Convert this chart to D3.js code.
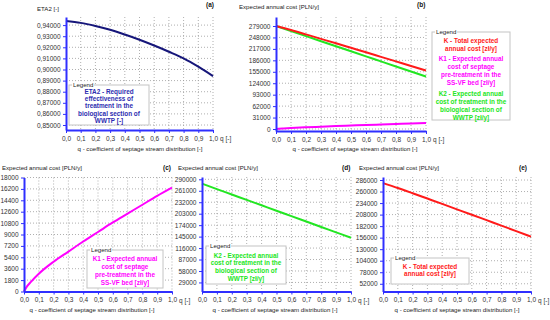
<!DOCTYPE html>
<html>
<head>
<meta charset="utf-8">
<script src="https://cdn.jsdelivr.net/npm/d3@7"></script>
<style>
  body { margin: 0; background: #fff; }
  svg { font-family: "Liberation Sans", Arial, sans-serif; }
  .tick text { fill: #333; font-size: 6.5px; }
  .title { fill: #222; font-size: 6.1px; }
  .letter { fill: #111; font-size: 6.5px; font-weight: bold; }
  .lgtxt { font-size: 6.4px; font-weight: bold; }
</style>
</head>
<body>
<div id="chart"></div>
<script>
// q - coefficient of septage stream distribution
const q = [0, 0.1, 0.2, 0.3, 0.4, 0.5, 0.6, 0.7, 0.8, 0.9, 1.0];
const qFine = [0, 0.02, 0.05, 0.1, 0.2, 0.3, 0.4, 0.5, 0.6, 0.7, 0.8, 0.9, 1.0];

// series
const eta2 = [0.9438, 0.9420, 0.9392, 0.9358, 0.9315, 0.9268, 0.9216, 0.9160, 0.9100, 0.9025, 0.8940];
const k1 = [0, 800, 1600, 2800, 4700, 6300, 7900, 9400, 10900, 12300, 13700, 15100, 16400];
const k2 = [279000, 265300, 251600, 237900, 224200, 210500, 196800, 183100, 169400, 155700, 142000];
const k = [279000, 268100, 256300, 244200, 232100, 219900, 207700, 195400, 183100, 170800, 158400];

// tick values
const xTicks = [0, 0.1, 0.2, 0.3, 0.4, 0.5, 0.6, 0.7, 0.8, 0.9, 1.0];
const ticksA = [0.85, 0.86, 0.87, 0.88, 0.89, 0.90, 0.91, 0.92, 0.93, 0.94];
const ticksB = [0, 31000, 62000, 93000, 124000, 155000, 186000, 217000, 248000, 279000];
const ticksC = [0, 1800, 3600, 5400, 7200, 9000, 10800, 12600, 14400, 16200, 18000];
const ticksD = [29000, 58000, 87000, 116000, 145000, 174000, 203000, 232000, 261000, 290000];
const ticksE = [52000, 78000, 104000, 130000, 156000, 182000, 208000, 234000, 260000, 286000];

const plLocale = d3.formatLocale({decimal: ",", thousands: "", grouping: [3], currency: ["", ""]});
const fmtX = plLocale.format(".1f");

const RED = "#ff1a1a", MAG = "#ff00ff", GRN = "#22e622", NAVY = "#16167a", LBLUE = "#2c2cb0";
const AXIS = "#2f2fff";

const yTitleCost = "Expected annual cost [PLN/y]";
const xTitle = "q - coefficient of septage stream distribution [-]";

const legK = [["K - Total expected", RED], ["annual cost [zł/y]", RED]];
const legK1 = [["K1 - Expected annual", MAG], ["cost of septage", MAG], ["pre-treatment in the", MAG], ["SS-VF bed [zł/y]", MAG]];
const legK2 = [["K2 - Expected annual", GRN], ["cost of treatment in the", GRN], ["biological section of", GRN], ["WWTP [zł/y]", GRN]];
const legEta = [["ETA2 - Required", LBLUE], ["effectiveness of", LBLUE], ["treatment in the", LBLUE], ["biological section of", LBLUE], ["WWTP [-]", LBLUE]];

const panels = [
  { letter: "(a)", left: 66, right: 213, top: 17, bottom: 130, yDom: [0.8455, 0.9473], yTicks: ticksA, yFmt: plLocale.format(".5f"),
    yTitle: "ETA2 [-]", yTitleX: 37, yTitleY: 11, letterX: 206, letterY: 7, xTitleX: 140, xTitleY: 151,
    series: [{x: q, y: eta2, color: NAVY}],
    legend: {x: 69, y: 85, w: 80, h: 40, lines: legEta, y0: 92, dy: 7.3} },
  { letter: "(b)", left: 276, right: 426, top: 17, bottom: 131, yDom: [-5400, 303400], yTicks: ticksB, yFmt: plLocale.format("d"),
    yTitle: yTitleCost, yTitleX: 239, yTitleY: 9, letterX: 417, letterY: 7, xTitleX: 355, xTitleY: 151,
    series: [{x: q, y: k2, color: GRN}, {x: qFine, y: k1, color: MAG}, {x: q, y: k, color: RED}],
    legend: {x: 432, y: 32, w: 78, h: 88, lines: [...legK, ...legK1, ...legK2], y0: 41, dy: 8, gaps: [0, 0, 2.5, 2.5, 2.5, 2.5, 5, 5, 5, 5]} },
  { letter: "(c)", left: 24, right: 172, top: 177.5, bottom: 291.5, yDom: [0, 18000], yTicks: ticksC, yFmt: plLocale.format("d"),
    yTitle: yTitleCost, yTitleX: 2, yTitleY: 170, letterX: 163, letterY: 170, xTitleX: 92, xTitleY: 312,
    series: [{x: qFine, y: k1, color: MAG}],
    legend: {x: 87, y: 250, w: 76, h: 38, lines: legK1, y0: 259.5, dy: 8.1} },
  { letter: "(d)", left: 202, right: 351, top: 177, bottom: 291.5, yDom: [6100, 295850], yTicks: ticksD, yFmt: plLocale.format("d"),
    yTitle: yTitleCost, yTitleX: 178, yTitleY: 170, letterX: 342, letterY: 170, xTitleX: 275, xTitleY: 312,
    series: [{x: q, y: k2, color: GRN}],
    legend: {x: 206, y: 246, w: 80, h: 38, lines: legK2, y0: 256, dy: 7.8} },
  { letter: "(e)", left: 383, right: 531, top: 177, bottom: 291.5, yDom: [34560, 292800], yTicks: ticksE, yFmt: plLocale.format("d"),
    yTitle: yTitleCost, yTitleX: 359, yTitleY: 170, letterX: 519, letterY: 170, xTitleX: 457, xTitleY: 312,
    series: [{x: q, y: k, color: RED}],
    legend: {x: 391, y: 258, w: 78, h: 26, lines: legK, y0: 267, dy: 7.6} }
];

const svg = d3.select("#chart").append("svg")
  .attr("width", 550)
  .attr("height", 320);

svg.append("rect").attr("width", 550).attr("height", 320).attr("fill", "#fff");

panels.forEach(p => {
  const g = svg.append("g");
  const x = d3.scaleLinear().domain([0, 1]).range([p.left, p.right]);
  const y = d3.scaleLinear().domain(p.yDom).range([p.bottom, p.top]);

  // dotted grid
  g.append("g").selectAll("line.v")
    .data(xTicks.slice(1))
    .enter().append("line")
    .attr("x1", d => x(d)).attr("x2", d => x(d))
    .attr("y1", p.top).attr("y2", p.bottom)
    .attr("stroke", "#9a9a9a").attr("stroke-width", 0.8).attr("stroke-dasharray", "1,2");
  g.append("g").selectAll("line.h")
    .data(p.yTicks)
    .enter().append("line")
    .attr("x1", p.left).attr("x2", p.right)
    .attr("y1", d => y(d)).attr("y2", d => y(d))
    .attr("stroke", "#9a9a9a").attr("stroke-width", 0.8).attr("stroke-dasharray", "1,2");

  // series
  p.series.forEach(s => {
    const pts = s.x.map((xv, i) => [xv, s.y[i]]);
    g.append("path")
      .datum(pts)
      .attr("fill", "none")
      .attr("stroke", s.color)
      .attr("stroke-width", 2)
      .attr("d", d3.line().x(d => x(d[0])).y(d => y(d[1])).curve(d3.curveMonotoneX));
  });

  // axes
  const yAxis = d3.axisLeft(y).tickValues(p.yTicks).tickFormat(p.yFmt).tickSize(3).tickSizeOuter(0).tickPadding(2.5);
  const xAxis = d3.axisBottom(x).tickValues(xTicks).tickFormat(fmtX).tickSize(3).tickSizeOuter(0).tickPadding(3);

  const ya = g.append("g").attr("transform", `translate(${p.left},0)`).call(yAxis);
  const xa = g.append("g").attr("transform", `translate(0,${p.bottom})`).call(xAxis);
  [ya, xa].forEach(a => {
    a.select(".domain").attr("stroke", AXIS).attr("stroke-width", 2);
    a.selectAll(".tick line").attr("stroke", AXIS).attr("stroke-width", 1);
    a.selectAll(".tick text").attr("font-size", null).attr("font-family", null);
  });

  g.append("text").attr("class", "tick")
    .append("tspan")
    .attr("x", p.right + 7).attr("y", p.bottom + 11)
    .attr("fill", "#333").attr("font-size", "6.5px")
    .text("q [-]");

  g.append("text").attr("class", "title")
    .attr("x", p.yTitleX).attr("y", p.yTitleY)
    .text(p.yTitle);
  g.append("text").attr("class", "letter")
    .attr("x", p.letterX).attr("y", p.letterY)
    .text(p.letter);
  g.append("text").attr("class", "title")
    .attr("x", p.xTitleX).attr("y", p.xTitleY)
    .attr("text-anchor", "middle")
    .text(xTitle);

  // legend box
  const L = p.legend;
  g.append("rect")
    .attr("x", L.x).attr("y", L.y).attr("width", L.w).attr("height", L.h)
    .attr("fill", "#fff").attr("stroke", "#c4c4c4").attr("stroke-width", 1);
  g.append("rect")
    .attr("x", L.x + 3).attr("y", L.y - 3).attr("width", 22).attr("height", 6)
    .attr("fill", "#fff");
  g.append("text").attr("class", "title")
    .attr("x", L.x + 4).attr("y", L.y + 2.2)
    .attr("fill", "#444")
    .text("Legend");
  g.selectAll("text.lgtxt")
    .data(L.lines)
    .enter().append("text")
    .attr("class", "lgtxt")
    .attr("x", L.x + L.w / 2)
    .attr("y", (d, i) => L.y0 + i * L.dy + (L.gaps ? L.gaps[i] : 0))
    .attr("text-anchor", "middle")
    .attr("dominant-baseline", "middle")
    .attr("fill", d => d[1])
    .text(d => d[0]);
});
</script>
</body>
</html>
